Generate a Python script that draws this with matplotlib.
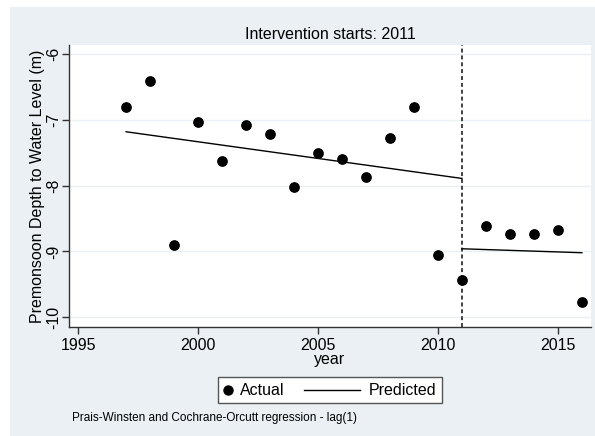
import matplotlib
matplotlib.use("Agg")
import matplotlib.pyplot as plt
from matplotlib.patches import Rectangle
from matplotlib.lines import Line2D

years = [1997, 1998, 1999, 2000, 2001, 2002, 2003, 2004, 2005, 2006,
         2007, 2008, 2009, 2010, 2011, 2012, 2013, 2014, 2015, 2016]
actual = [-6.80, -6.41, -8.90, -7.03, -7.62, -7.07, -7.21, -8.02, -7.50, -7.60,
          -7.87, -7.28, -6.80, -9.05, -9.44, -8.62, -8.73, -8.73, -8.68, -9.77]
pred_pre_years = [1997, 2011]
pred_pre = [-7.18, -7.89]
pred_post_years = [2011, 2016]
pred_post = [-8.96, -9.02]
intervention_year = 2011
xticks = [1995, 2000, 2005, 2010, 2015]
yticks = [-6, -7, -8, -9, -10]
legend_labels = ['Actual', 'Predicted']

plt.rcParams['font.family'] = ['Liberation Sans', 'DejaVu Sans']

W, H = 595, 436
fig = plt.figure(figsize=(W / 100, H / 100), dpi=100)
fig.patch.set_facecolor('white')
bg = '#eaf0f3'
fig.add_artist(Rectangle((10 / W, 0), 1 - 10 / W, 1 - 7 / H, transform=fig.transFigure,
                         facecolor=bg, edgecolor='none', zorder=-10))

left, right, top, bottom = 69, 591, 45, 327
ax = fig.add_axes([left / W, 1 - bottom / H, (right - left) / W, (bottom - top) / H])
ax.set_facecolor('white')

ax.set_xlim(1994.62, 2016.38)
ax.set_ylim(-10.15, -5.86)

for y in yticks:
    ax.axhline(y, color='#eaf0f3', lw=1.0, zorder=0)

ax.plot(pred_pre_years, pred_pre, color='black', lw=1.0, zorder=2)
ax.plot(pred_post_years, pred_post, color='black', lw=1.0, zorder=2)
ax.scatter(years, actual, s=45, color='black', zorder=3)
ax.axvline(intervention_year, color='#333333', lw=1.3, ls=(0, (2.2, 1.6)), zorder=1)

for s in ['top', 'right']:
    ax.spines[s].set_visible(False)
for s in ['left', 'bottom']:
    ax.spines[s].set_color('#333333')
    ax.spines[s].set_linewidth(1.0)

ax.set_xticks(xticks)
ax.set_xticklabels([str(x) for x in xticks], fontsize=11.5)
ax.set_yticks(yticks)
ax.set_yticklabels([str(y) for y in yticks], fontsize=11.5, rotation=90, va='center')
ax.tick_params(axis='both', length=5, width=1.0, color='#333333')
ax.tick_params(axis='y', pad=0.5)
ax.tick_params(axis='x', pad=3)

ax.set_xlabel('year', fontsize=11.5, labelpad=-1)
ax.set_ylabel('Premonsoon Depth to Water Level (m)', fontsize=11.5, labelpad=1)
ax.set_title('Intervention starts: 2011', fontsize=11.5, pad=4)

# Legend drawn manually in figure pixel coordinates
def fx(px):
    return px / W

def fy(py):
    return 1 - py / H

lx0, lx1, ly0, ly1 = 218, 442, 377, 403
fig.add_artist(Rectangle((fx(lx0), fy(ly1)), fx(lx1) - fx(lx0), fy(ly0) - fy(ly1),
                         transform=fig.transFigure, facecolor='white',
                         edgecolor='#555555', lw=1.0, zorder=5))
ymid = fy((ly0 + ly1) / 2)
fig.add_artist(Line2D([fx(228)], [ymid], marker='o', color='black', ls='none',
                      markersize=6.5, transform=fig.transFigure, zorder=6))
fig.text(fx(240), ymid, legend_labels[0], fontsize=11.5, va='center', ha='left', zorder=6)
fig.add_artist(Line2D([fx(304), fx(360)], [ymid, ymid], color='black', lw=1.0,
                      transform=fig.transFigure, zorder=6))
fig.text(fx(369), ymid, legend_labels[1], fontsize=11.5, va='center', ha='left', zorder=6)

fig.text(72 / W, 1 - 418 / H, 'Prais-Winsten and Cochrane-Orcutt regression - lag(1)',
         fontsize=8.5, va='center', ha='left')

fig.savefig('out.png', dpi=100, facecolor=fig.get_facecolor())
